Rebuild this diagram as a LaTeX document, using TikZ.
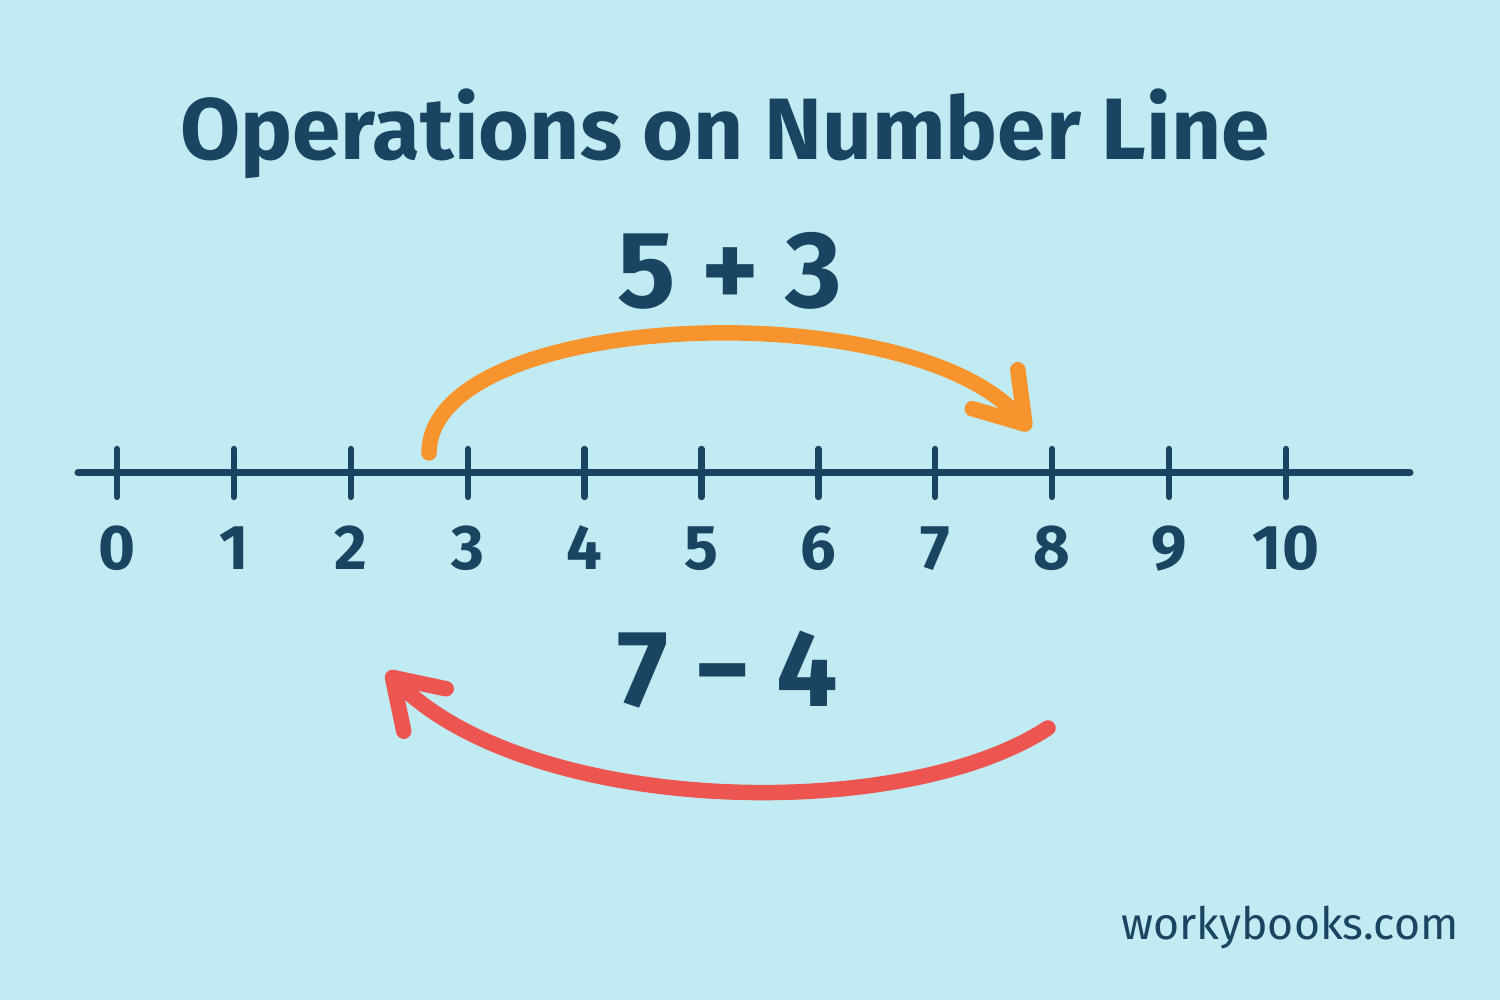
\documentclass[tikz,border=0pt]{standalone}
\usepackage{fontspec}
\setmainfont{Fira Sans}
\usetikzlibrary{arrows.meta}
\definecolor{skybg}{RGB}{192,235,242}
\definecolor{navy}{RGB}{27,68,98}
\definecolor{jumporange}{RGB}{247,148,45}
\definecolor{jumpred}{RGB}{236,85,80}

\begin{document}
\begin{tikzpicture}[
  axisline/.style={navy,line width=2pt,line cap=round},
  tickmark/.style={navy,line width=1.8pt,line cap=round},
  numlab/.style={navy,anchor=base,font=\fontsize{18}{20}\selectfont\bfseries},
  sumlab/.style={navy,anchor=base,font=\fontsize{31}{36}\selectfont\bfseries},
  jump/.style={line width=4.4pt,line cap=round,-{Straight Barb[length=4.6mm,width=6mm,round]}}
]
\fill[skybg] (0,0) rectangle (15,10);
\useasboundingbox (0,0) rectangle (15,10);
\node[navy,anchor=base,font=\fontsize{24.8}{30}\selectfont\bfseries] (title) at (7.25,8.40) {Operations on Number Line};
% number line
\draw[axisline] (0.78,5.27) -- (14.10,5.27);
\foreach \i in {0,...,10}{
  \draw[tickmark] (1.17+1.169*\i,5.03) -- ++(0,0.48);
  \node[numlab] (n\i) at (1.17+1.169*\i,4.30) {\i};
}
% addition jump
\node[sumlab] (plus) at (7.30,6.92) {5 + 3};
\coordinate (plusstart) at (4.29,5.47);
\coordinate (plusend) at (10.30,5.70);
\draw[jump,jumporange] (plusstart) .. controls (4.30,6.90) and (9.10,7.10) .. (plusend);
% subtraction jump
\node[sumlab] (minus) at (7.28,2.93) {7 − 4};
\coordinate (minusstart) at (10.48,2.72);
\coordinate (minusend) at (3.87,3.28);
\draw[jump,jumpred] (minusstart) .. controls (9.00,1.75) and (5.30,1.85) .. (minusend);
\node[navy,anchor=base,font=\fontsize{12.7}{15}\selectfont] (site) at (12.90,0.60) {workybooks.com};
\end{tikzpicture}
\end{document}
